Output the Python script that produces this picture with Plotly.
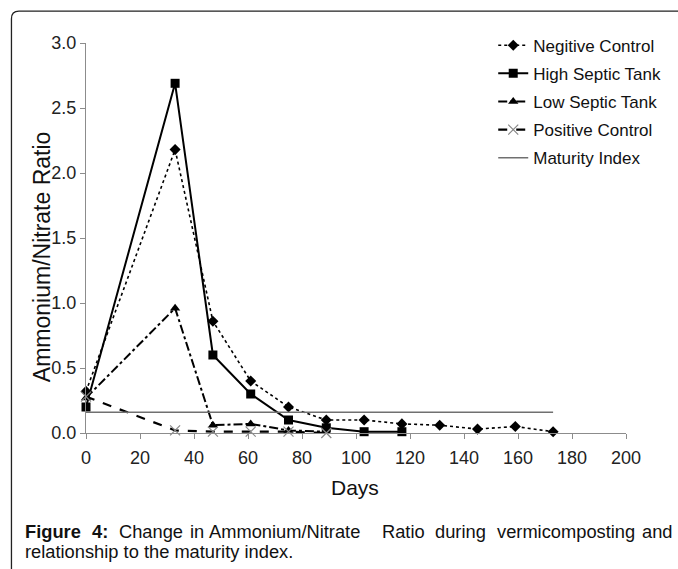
import plotly.graph_objects as go

# ---------------- data ----------------
days_neg = [0, 33, 47, 61, 75, 89, 103, 117, 131, 145, 159, 173]
neg_control = [0.32, 2.18, 0.86, 0.40, 0.20, 0.10, 0.10, 0.07, 0.06, 0.03, 0.05, 0.01]

days_high = [0, 33, 47, 61, 75, 89, 103, 117]
high_septic = [0.20, 2.69, 0.60, 0.30, 0.10, 0.04, 0.01, 0.01]

days_low = [0, 33, 47, 61, 75, 89]
low_septic = [0.27, 0.96, 0.06, 0.07, 0.02, 0.01]

days_pos = [0, 33, 47, 61, 75, 89]
pos_control = [0.28, 0.02, 0.01, 0.01, 0.01, 0.00]

days_mat = [0, 173]
maturity_index = [0.16, 0.16]

x_ticks = [0, 20, 40, 60, 80, 100, 120, 140, 160, 180, 200]
y_ticks = [0.0, 0.5, 1.0, 1.5, 2.0, 2.5, 3.0]
y_tick_labels = ["0.0", "0.5", "1.0", "1.5", "2.0", "2.5", "3.0"]

caption_bold_words = ["Figure", "4:"]
caption_line1_words = ["Change", "in", "Ammonium/Nitrate", "Ratio", "during",
                       "vermicomposting", "and"]
caption_line2 = "relationship to the maturity index."

# ---------------- layout geometry (pixels) ----------------
FIG_W, FIG_H = 678, 569
PL, PR, PT, PB = 86.0, 625.7, 43.3, 433.3   # plot area edges
PW, PH = PR - PL, PB - PT

def px(x):
    return (x - PL) / PW

def py(y):
    return (PB - y) / PH

FONT = "Liberation Sans, Arial, sans-serif"

fig = go.Figure()

fig.add_trace(go.Scatter(
    x=days_neg, y=neg_control, name="Negitive Control", mode="lines+markers",
    line=dict(color="black", width=1.6, dash="dot"),
    marker=dict(symbol="diamond", size=8.5, color="black"),
    cliponaxis=False, legendgroup="a"))

fig.add_trace(go.Scatter(
    x=days_high, y=high_septic, name="High Septic Tank", mode="lines+markers",
    line=dict(color="black", width=2),
    marker=dict(symbol="square", size=9, color="black"),
    cliponaxis=False, legendgroup="b"))

fig.add_trace(go.Scatter(
    x=days_low, y=low_septic, name="Low Septic Tank", mode="lines+markers",
    line=dict(color="black", width=2, dash="dashdot"),
    marker=dict(symbol="triangle-up", size=9, color="black"),
    cliponaxis=False, legendgroup="c"))

fig.add_trace(go.Scatter(
    x=days_pos, y=pos_control, name="Positive Control", mode="lines+markers",
    line=dict(color="black", width=2.2, dash="dash"),
    marker=dict(symbol="x-thin-open", size=10, color="#888888",
                line=dict(color="#888888", width=1.2)),
    cliponaxis=False, legendgroup="d"))

fig.add_trace(go.Scatter(
    x=days_mat, y=maturity_index, name="Maturity Index", mode="lines",
    line=dict(color="#707070", width=1.5),
    cliponaxis=False, legendgroup="e"))

axis_col = "#8c8c8c"
fig.update_xaxes(range=[0, 200], tickvals=x_ticks, showgrid=False, zeroline=False,
                 showline=True, linecolor=axis_col, linewidth=1,
                 ticks="outside", ticklen=5, tickcolor=axis_col,
                 tickfont=dict(family=FONT, size=18, color="#222"),
                 ticklabelstandoff=3)
fig.update_yaxes(range=[0, 3], tickvals=y_ticks, ticktext=y_tick_labels,
                 showgrid=False, zeroline=False,
                 showline=True, linecolor=axis_col, linewidth=1,
                 ticks="outside", ticklen=5, tickcolor=axis_col,
                 tickfont=dict(family=FONT, size=18, color="#222"))

annotations = [
    dict(text="Ammonium/Nitrate Ratio", textangle=-90, x=px(42), y=py(256.5),
         xref="paper", yref="paper", showarrow=False,
         font=dict(family=FONT, size=23, color="#111"),
         xanchor="center", yanchor="middle"),
    dict(text="Days", x=px(354.5), y=py(487.5), xref="paper", yref="paper",
         showarrow=False, font=dict(family=FONT, size=21, color="#111"),
         xanchor="center", yanchor="middle"),
    dict(text=caption_line2, x=px(23.3), y=py(551.5), xref="paper", yref="paper",
         showarrow=False, font=dict(family=FONT, size=18.3, color="#111"),
         xanchor="left", yanchor="middle"),
]
for w, xl in zip(caption_bold_words, [23.3, 90]):
    annotations.append(dict(text=f"<b>{w}</b>", x=px(xl), y=py(531.5), xref="paper",
                            yref="paper", showarrow=False,
                            font=dict(family=FONT, size=18.3, color="#111"),
                            xanchor="left", yanchor="middle"))
word_left = [116.7, 188, 206.7, 380, 433, 495, 639.3]
for w, xl in zip(caption_line1_words, word_left):
    annotations.append(dict(text=w, x=px(xl), y=py(531.5), xref="paper", yref="paper",
                            showarrow=False, font=dict(family=FONT, size=18.3, color="#111"),
                            xanchor="left", yanchor="middle"))

frame_path = (f"M {px(11.5)},{py(575)} L {px(11.5)},{py(19)} "
              f"Q {px(11.5)},{py(11.5)} {px(19)},{py(11.5)} L {px(680)},{py(11.5)}")

fig.update_layout(
    width=FIG_W, height=FIG_H, autosize=False,
    margin=dict(l=PL, r=FIG_W - PR, t=PT, b=FIG_H - PB, pad=0),
    paper_bgcolor="white", plot_bgcolor="white",
    font=dict(family=FONT, color="#111"),
    showlegend=True,
    legend=dict(x=px(493), y=py(28), xanchor="left", yanchor="top",
                font=dict(family=FONT, size=17, color="#111"),
                bgcolor="rgba(0,0,0,0)", tracegroupgap=3, itemwidth=30),
    annotations=annotations,
    shapes=[dict(type="path", path=frame_path, xref="paper", yref="paper",
                 line=dict(color="#222", width=1.3))],
)

fig.write_html("out.html")
